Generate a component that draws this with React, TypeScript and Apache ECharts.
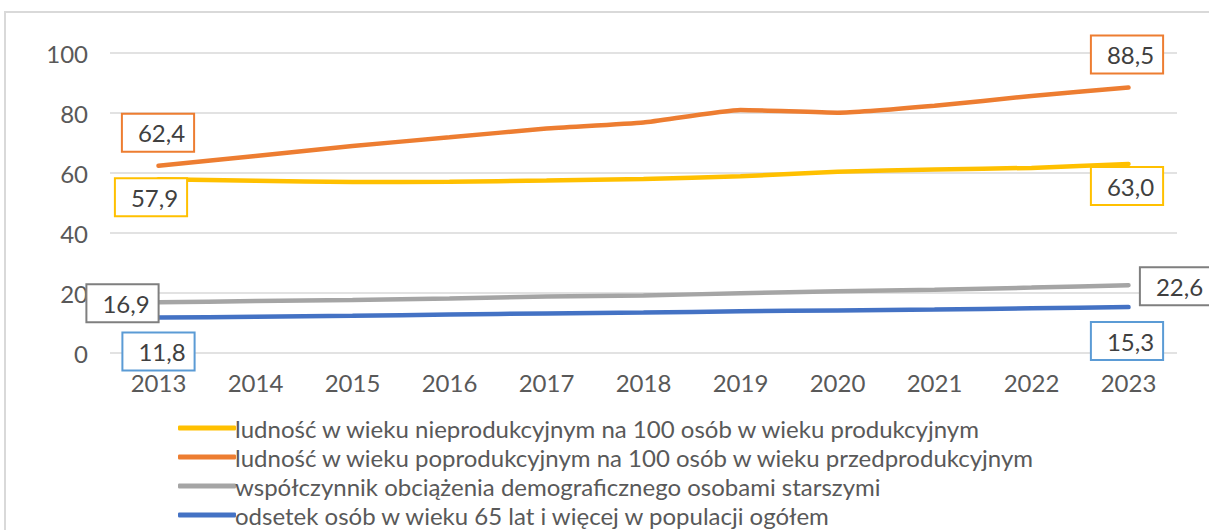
import React, { useEffect, useRef } from "react";
import * as echarts from "echarts";

const years = ["2013", "2014", "2015", "2016", "2017", "2018", "2019", "2020", "2021", "2022", "2023"];
const nieprodukcyjny = [57.9, 57.4, 57.0, 57.1, 57.5, 58.0, 58.9, 60.4, 61.2, 61.7, 63.0];
const poprodukcyjny = [62.4, 65.7, 69.0, 71.9, 74.8, 76.8, 81.0, 80.1, 82.4, 85.7, 88.5];
const obciazenie = [16.9, 17.3, 17.7, 18.2, 18.8, 19.2, 19.9, 20.6, 21.1, 21.8, 22.6];
const odsetek65 = [11.8, 12.1, 12.4, 12.8, 13.2, 13.5, 13.9, 14.2, 14.5, 14.9, 15.3];

const names = [
  "ludność w wieku nieprodukcyjnym na 100 osób w wieku produkcyjnym",
  "ludność w wieku poprodukcyjnym na 100 osób w wieku przedprodukcyjnym",
  "współczynnik obciążenia demograficznego osobami starszymi",
  "odsetek osób w wieku 65 lat i więcej w populacji ogółem",
];

const FONT = "Lato";

function withLabels(values: number[], border: string, first: number[], last: number[]) {
  return values.map((v, i) => {
    if (i !== 0 && i !== values.length - 1) return v;
    const off = i === 0 ? first : last;
    return {
      value: v,
      label: {
        show: true,
        position: "inside",
        offset: off,
        formatter: (p: any) => p.value.toFixed(1).replace(".", ","),
        fontFamily: FONT,
        fontSize: 24,
        lineHeight: 24,
        color: "#404040",
        backgroundColor: "#ffffff",
        borderColor: border,
        borderWidth: 2,
        padding: [6, 8, 6, 15],
      },
    };
  });
}

export default function App() {
  const ref = useRef<HTMLDivElement>(null);
  useEffect(() => {
    const chart = echarts.init(ref.current!, null, { renderer: "svg" });
    const mk = (name: string, data: any[], color: string, z: number) => ({
      name,
      type: "line",
      data,
      z,
      smooth: 0.15,
      symbol: "circle",
      symbolSize: 0.1,
      showSymbol: true,
      itemStyle: { color },
      lineStyle: { color, width: 4.5, cap: "round" },
      label: { show: false },
    });
    chart.setOption({
      animation: false,
      graphic: [
        {
          type: "rect",
          shape: { x: 5, y: 12, width: 1400, height: 700 },
          style: { fill: "none", stroke: "#D9D9D9", lineWidth: 2 },
          z: -10,
        },
      ],
      grid: { left: 110, right: 32, top: 53, bottom: 177 },
      legend: {
        orient: "vertical",
        left: 173,
        top: 411,
        height: 200,
        itemGap: 5,
        itemWidth: 58,
        itemHeight: 5,
        icon: "roundRect",
        textStyle: { fontFamily: FONT, fontSize: 24, lineHeight: 24, color: "#595959", padding: [0, 0, 0, -6] },
        data: names,
      },
      xAxis: {
        type: "category",
        data: years,
        boundaryGap: true,
        axisLine: { show: false },
        axisTick: { show: false },
        axisLabel: { fontFamily: FONT, fontSize: 24, color: "#595959", margin: 17 },
      },
      yAxis: {
        type: "value",
        min: 0,
        max: 100,
        interval: 20,
        axisLine: { show: false },
        axisTick: { show: false },
        axisLabel: { fontFamily: FONT, fontSize: 24, color: "#595959", margin: 22 },
        splitLine: { lineStyle: { color: "#D9D9D9", width: 1.5 } },
      },
      series: [
        mk(names[0], withLabels(nieprodukcyjny, "#FFC000", [-7.5, 18], [-1.5, 22]), "#FFC000", 3),
        mk(names[1], withLabels(poprodukcyjny, "#ED7D31", [-0.5, -33], [-1.5, -33]), "#ED7D31", 4),
        mk(names[2], withLabels(obciazenie, "#7F7F7F", [-36, 1], [47.5, 1]), "#A5A5A5", 2),
        mk(names[3], withLabels(odsetek65, "#5B9BD5", [0, 34], [-1.5, 34]), "#4472C4", 1),
      ],
    });
    return () => chart.dispose();
  }, []);
  return (
    <div
      ref={ref}
      style={{ position: "fixed", left: 0, top: 0, width: 1209, height: 530, background: "#fff" }}
    />
  );
}
